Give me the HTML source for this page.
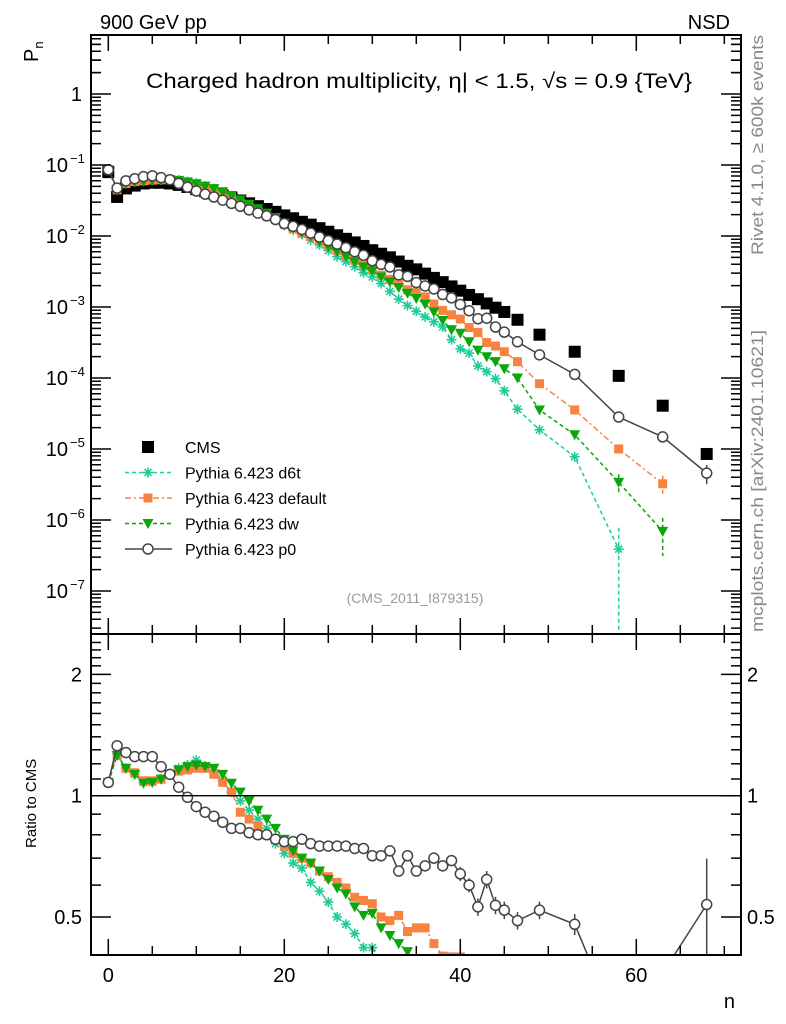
<!DOCTYPE html>
<html><head><meta charset="utf-8"><style>
html,body{margin:0;padding:0;background:#fff;overflow:hidden;width:786px;height:1024px}
svg{font-family:"Liberation Sans",sans-serif;display:block}
</style></head><body>
<svg id="chart" width="786" height="1024" viewBox="0 0 786 1024" xmlns="http://www.w3.org/2000/svg">
<rect x="0" y="0" width="786" height="1024" fill="#fff"/>
<text x="100" y="29" font-size="20">900 GeV pp</text>
<text x="730" y="29" font-size="20" text-anchor="end">NSD</text>
<text x="146" y="88" font-size="21" textLength="546" lengthAdjust="spacingAndGlyphs">Charged hadron multiplicity, η| &lt; 1.5, √s = 0.9 {TeV}</text>
<text transform="translate(38,62) rotate(-90)" font-size="20">P<tspan font-size="13" dy="5">n</tspan></text>
<text transform="translate(36,848) rotate(-90)" font-size="15">Ratio to CMS</text>
<text x="735" y="1008" font-size="20" text-anchor="end">n</text>
<text transform="translate(763,255) rotate(-90)" font-size="17" fill="#888" textLength="220" lengthAdjust="spacingAndGlyphs">Rivet 4.1.0, ≥ 600k events</text>
<text transform="translate(763,632) rotate(-90)" font-size="17" fill="#888" textLength="302" lengthAdjust="spacingAndGlyphs">mcplots.cern.ch [arXiv:2401.10621]</text>
<text x="415" y="603" font-size="14" fill="#999" text-anchor="middle">(CMS_2011_I879315)</text>
<g id="g-main"></g>
<g id="g-ratio"></g>
<g id="g-axes"></g>
<g id="g-legend"></g>
</svg>
<script>
const nValues = [0,1,2,3,4,5,6,7,8,9,10,11,12,13,14,15,16,17,18,19,20,21,22,23,24,25,26,27,28,29,30,31,32,33,34,35,36,37,38,39,40,41,42,43,44,45,46.5,49,53,58,63,68];
// log10(Pn)
const cmsLog10 = [-1.10,-1.45,-1.33,-1.29,-1.26,-1.25,-1.25,-1.26,-1.28,-1.31,-1.34,-1.37,-1.40,-1.43,-1.46,-1.50,-1.54,-1.58,-1.62,-1.66,-1.71,-1.75,-1.80,-1.84,-1.89,-1.94,-1.99,-2.04,-2.09,-2.14,-2.20,-2.25,-2.30,-2.36,-2.42,-2.47,-2.53,-2.59,-2.65,-2.71,-2.77,-2.83,-2.89,-2.95,-3.01,-3.07,-3.18,-3.39,-3.63,-3.97,-4.39,-5.07];
const d6tLog10 = [-1.067,-1.346,-1.262,-1.237,-1.227,-1.217,-1.209,-1.207,-1.212,-1.234,-1.252,-1.296,-1.336,-1.393,-1.451,-1.513,-1.576,-1.638,-1.701,-1.779,-1.853,-1.917,-1.980,-2.055,-2.127,-2.204,-2.291,-2.359,-2.432,-2.517,-2.577,-2.67,-2.78,-2.89,-2.98,-3.06,-3.14,-3.21,-3.28,-3.46,-3.59,-3.65,-3.83,-3.91,-4.01,-4.18,-4.44,-4.73,-5.11,-6.41,null,null];
const defaultLog10 = [-1.067,-1.350,-1.262,-1.233,-1.223,-1.213,-1.209,-1.207,-1.219,-1.246,-1.272,-1.302,-1.347,-1.397,-1.451,-1.541,-1.598,-1.656,-1.717,-1.768,-1.835,-1.893,-1.955,-2.007,-2.077,-2.141,-2.205,-2.269,-2.342,-2.400,-2.468,-2.551,-2.610,-2.657,-2.757,-2.798,-2.858,-2.957,-3.048,-3.11,-3.17,-3.29,-3.36,-3.50,-3.55,-3.63,-3.77,-4.08,-4.45,-5.00,-5.49,null];
const dwLog10 = [-1.067,-1.350,-1.262,-1.237,-1.229,-1.217,-1.209,-1.207,-1.216,-1.238,-1.264,-1.298,-1.332,-1.377,-1.429,-1.491,-1.553,-1.616,-1.678,-1.741,-1.818,-1.887,-1.955,-2.007,-2.077,-2.148,-2.219,-2.284,-2.366,-2.437,-2.492,-2.578,-2.647,-2.727,-2.807,-2.88,-2.96,-3.07,-3.19,-3.32,-3.37,-3.49,-3.61,-3.70,-3.77,-3.87,-4.00,-4.45,-4.80,-5.47,-6.16,null];
const p0Log10 = [-1.067,-1.326,-1.223,-1.193,-1.163,-1.153,-1.178,-1.207,-1.259,-1.314,-1.367,-1.411,-1.451,-1.496,-1.541,-1.581,-1.632,-1.677,-1.717,-1.768,-1.824,-1.864,-1.908,-1.959,-2.015,-2.065,-2.115,-2.165,-2.221,-2.271,-2.349,-2.399,-2.437,-2.547,-2.569,-2.657,-2.704,-2.745,-2.824,-2.871,-2.964,-3.052,-3.166,-3.158,-3.282,-3.354,-3.490,-3.674,-3.949,-4.55,-4.83,-5.34];
// relative uncertainties (tail only)
const d6tRelErr = {"53":0.12,"58":1.0};
const defaultRelErr = {"58":0.12,"63":0.3};
const dwRelErr = {"53":0.1,"58":0.3,"63":0.55};
const p0RelErr = {"40":0.04,"41":0.04,"42":0.05,"43":0.05,"44":0.05,"45":0.05,"46.5":0.05,"49":0.05,"53":0.06,"58":0.06,"63":0.1,"68":0.3};
const yMainTickLabels = ["1","10","10","10","10","10","10","10"];
const ratioTickValues = [0.5,1,2];
const xTickValues = [0,20,40,60];

const NS="http://www.w3.org/2000/svg";
const L=91,R=741,T=35,MB=634,RB=955;
const xS=n=>108.3+8.8*n;
const yM=l=>94-71*l;
const yR=r=>795.7-403*Math.log10(r);
function mk(tag,attrs,parent){const e=document.createElementNS(NS,tag);for(const k in attrs)e.setAttribute(k,attrs[k]);parent.appendChild(e);return e;}
const gMain=document.getElementById('g-main'),gRatio=document.getElementById('g-ratio'),gAx=document.getElementById('g-axes'),gLeg=document.getElementById('g-legend');

const defs=mk('defs',{},document.getElementById('chart'));
const c1=mk('clipPath',{id:'clipM'},defs);mk('rect',{x:L,y:T,width:R-L,height:MB-T},c1);
const c2=mk('clipPath',{id:'clipR'},defs);mk('rect',{x:L,y:MB,width:R-L,height:RB-MB},c2);
gMain.setAttribute('clip-path','url(#clipM)');gRatio.setAttribute('clip-path','url(#clipR)');

function marker(type,x,y,color,parent,name){
  let e;
  if(type==='cms'){e=mk('rect',{x:x-6,y:y-6,width:12,height:12,fill:'#000'},parent);}
  else if(type==='sq'){e=mk('rect',{x:x-4.5,y:y-4.5,width:9,height:9,fill:color},parent);}
  else if(type==='tri'){e=mk('polygon',{points:`${x-5.5},${y-4.5} ${x+5.5},${y-4.5} ${x},${y+5.5}`,fill:color},parent);}
  else if(type==='circ'){e=mk('circle',{cx:x,cy:y,r:5,fill:'#fff',stroke:color,'stroke-width':1.5},parent);}
  else if(type==='star'){e=mk('g',{stroke:color,'stroke-width':1.6},parent);
    for(let a=0;a<4;a++){const t=a*Math.PI/4;mk('line',{x1:x-5*Math.cos(t),y1:y-5*Math.sin(t),x2:x+5*Math.cos(t),y2:y+5*Math.sin(t)},e);}}
  
  
  return e;
}
const series=[
 {key:'d6t',data:d6tLog10,err:d6tRelErr,color:'#1fcc99',type:'star',dash:'4,3',label:'Pythia 6.423 d6t'},
 {key:'default',data:defaultLog10,err:defaultRelErr,color:'#f8823f',type:'sq',dash:'6,3,2,3',label:'Pythia 6.423 default'},
 {key:'dw',data:dwLog10,err:dwRelErr,color:'#0aa60a',type:'tri',dash:'4,3',label:'Pythia 6.423 dw'},
 {key:'p0',data:p0Log10,err:p0RelErr,color:'#444',type:'circ',dash:'',label:'Pythia 6.423 p0'}
];
nValues.forEach((n,i)=>{marker('cms',xS(n),yM(cmsLog10[i]),'#000',gMain,'cms-point');});
series.forEach(s=>{
  let pm=[],pr=[];
  nValues.forEach((n,i)=>{const v=s.data[i];if(v===null)return;pm.push([xS(n),yM(v)]);pr.push([xS(n),yR(Math.pow(10,v-cmsLog10[i]))]);});
  [[pm,gMain,'main'],[pr,gRatio,'ratio']].forEach(([pts,g,p])=>{
    const pl=mk('polyline',{points:pts.map(q=>q.join(',')).join(' '),fill:'none',stroke:s.color,'stroke-width':1.5},g);
    if(s.dash)pl.setAttribute('stroke-dasharray',s.dash);
    
    
  });
  nValues.forEach((n,i)=>{const v=s.data[i];if(v===null)return;
    const e=s.err[String(n)];const x=xS(n);
    if(e){const val=Math.pow(10,v);const lo=val*(1-e)>0?Math.log10(val*(1-e)):-9;const hi=Math.log10(val*(1+e));
      const b=mk('line',{x1:x,x2:x,y1:yM(hi),y2:yM(lo),stroke:s.color,'stroke-width':1.5},gMain);
      if(s.dash)b.setAttribute('stroke-dasharray','4,3');
      
      
      const r=Math.pow(10,v-cmsLog10[i]);const rlo=Math.max(r*(1-e),0.01);
      const b2=mk('line',{x1:x,x2:x,y1:yR(r*(1+e)),y2:yR(rlo),stroke:s.color,'stroke-width':1.5},gRatio);
      
      
    }
    marker(s.type,x,yM(v),s.color,gMain,s.key+'-point');
    marker(s.type,x,yR(Math.pow(10,v-cmsLog10[i])),s.color,gRatio,s.key+'-ratio-point');
  });
});
const ref=mk('line',{x1:L,x2:R,y1:yR(1),y2:yR(1),stroke:'#000','stroke-width':1.3},gAx);


[[T,MB,'main-frame'],[MB,RB,'ratio-frame']].forEach(([a,b,nm])=>{
  const f=mk('rect',{x:L,y:a,width:R-L,height:b-a,fill:'none',stroke:'#000','stroke-width':2},gAx);
  
  
});
function tick(x1,y1,x2,y2){const t=mk('line',{x1,y1,x2,y2,stroke:'#000','stroke-width':1.5},gAx);}
for(let n=0;n<=70;n+=5){const x=xS(n);const len=n%20===0?16:9;
  [T,MB].forEach(y=>tick(x,y,x,y+len));[MB,RB].forEach(y=>tick(x,y,x,y-len));}
xTickValues.forEach(v=>{const t=mk('text',{x:xS(v),y:982,'font-size':20,'text-anchor':'middle'},gAx);t.textContent=v;
  });
for(let d=0;d>=-8;d--){
  for(let m=1;m<10;m++){const l=d+Math.log10(m);const y=yM(l);if(y<T||y>MB)continue;const len=m===1?20:10;
    tick(L,y,L+len,y);tick(R,y,R-len,y);}
}
for(let m=2;m<10;m++){const y=yM(Math.log10(m));if(y>T){tick(L,y,L+10,y);tick(R,y,R-10,y);}}
yMainTickLabels.forEach((lab,k)=>{const y=yM(-k)+7;
  const t=mk('text',{x:k===0?82:68,y:y,'font-size':20,'text-anchor':'end'},gAx);t.textContent=lab;
  
  if(k>0){const s=mk('text',{x:70,y:y-9,'font-size':13,'text-anchor':'start'},gAx);s.textContent='−'+k;
    }
});
const rmin=[0.4,0.6,0.7,0.8,0.9,1.1,1.2,1.3,1.4,1.5,1.6,1.7,1.8,1.9,2.1,2.2,2.3,2.4];
rmin.forEach(r=>{const y=yR(r);if(y<MB||y>RB)return;tick(L,y,L+10,y);tick(R,y,R-10,y);});
ratioTickValues.forEach(r=>{const y=yR(r);tick(L,y,L+20,y);tick(R,y,R-20,y);
  const t=mk('text',{x:82,y:y+7,'font-size':20,'text-anchor':'end'},gAx);t.textContent=r;
  
  const t2=mk('text',{x:747,y:y+7,'font-size':20,'text-anchor':'start'},gAx);t2.textContent=r;
  
});
const legRows=[{type:'cms',color:'#000',label:'CMS',dash:null}].concat(series);
legRows.forEach((s,k)=>{const y=447+k*25.5;const g=mk('g',{},gLeg);
  
  
  if(s.dash!==null){const l=mk('line',{x1:125,x2:172,y1:y,y2:y,stroke:s.color,'stroke-width':1.5},g);if(s.dash)l.setAttribute('stroke-dasharray',s.dash);
    }
  marker(s.type,148,y,s.color,g,'legend-marker');
  const t=mk('text',{x:185,y:y+6,'font-size':16},g);t.textContent=s.label;
  
});
</script>
</body></html>
